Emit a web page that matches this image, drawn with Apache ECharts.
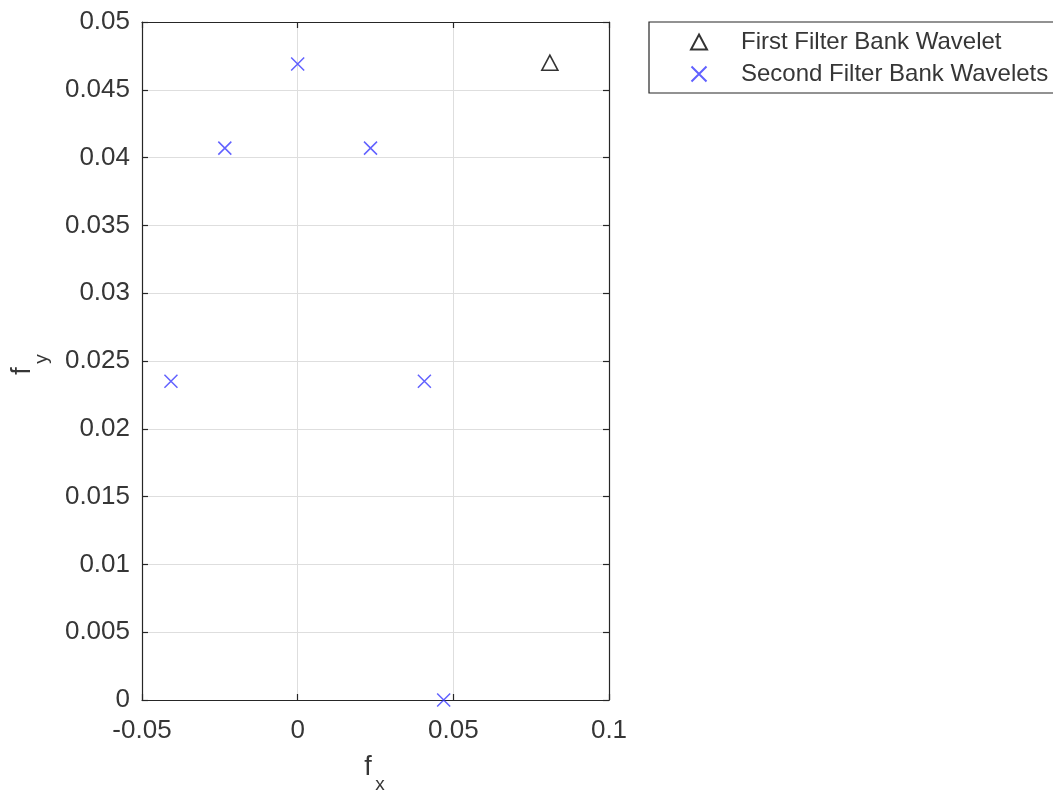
<!DOCTYPE html>
<html>
<head>
<meta charset="utf-8">
<script src="https://cdn.jsdelivr.net/npm/echarts@6/dist/echarts.min.js"></script>
<style>html,body{margin:0;padding:0;background:#fff;}#c{width:1053px;height:794px;}</style>
</head>
<body>
<div id="c"></div>
<script>
// Data
const firstBankX = [0.0810];
const firstBankY = [0.0470];
const secondBankX = [0.0000, -0.0234, 0.0234, -0.0407, 0.0407, 0.0469];
const secondBankY = [0.0469, 0.0407, 0.0407, 0.0235, 0.0235, 0.0000];
const seriesNames = ['First Filter Bank Wavelet', 'Second Filter Bank Wavelets'];
const xTicks = { min: -0.05, max: 0.1, interval: 0.05 };
const yTicks = { min: 0, max: 0.05, interval: 0.005 };

const zip = (xs, ys) => xs.map((x, i) => [x, ys[i]]);
const fmt = v => String(Math.round(v * 1000) / 1000);
const axisCol = '#262626';
const txtCol = '#363636';
const FONT = 'Liberation Sans, Arial, Helvetica, sans-serif';
const crossPath = 'path://M0,0L10,10M10,0L0,10';

const chart = echarts.init(document.getElementById('c'), null, { renderer: 'canvas' });
const baseAxis = {
  axisLine: { show: true, onZero: false, lineStyle: { color: axisCol, width: 1.2 } },
  axisTick: { show: true, inside: true, length: 6, lineStyle: { color: axisCol, width: 1.2 } },
  splitLine: { show: false },
  axisLabel: { show: false }
};
chart.setOption({
  animation: false,
  backgroundColor: '#fff',
  grid: { left: 142, top: 22, right: 1053 - 609, bottom: 794 - 700, containLabel: false },
  xAxis: [
    Object.assign({}, baseAxis, {
      type: 'value', position: 'bottom', min: xTicks.min, max: xTicks.max, interval: xTicks.interval,
      splitLine: { show: true, lineStyle: { color: '#dedede', width: 1 } },
      axisLabel: { show: true, color: txtCol, fontSize: 26, fontFamily: FONT, margin: 18, formatter: fmt }
    }),
    Object.assign({}, baseAxis, {
      type: 'value', position: 'top', min: xTicks.min, max: xTicks.max, interval: xTicks.interval
    })
  ],
  yAxis: [
    Object.assign({}, baseAxis, {
      type: 'value', position: 'left', min: yTicks.min, max: yTicks.max, interval: yTicks.interval,
      splitLine: { show: true, lineStyle: { color: '#dedede', width: 1 } },
      axisLabel: { show: true, color: txtCol, fontSize: 26, fontFamily: FONT, margin: 12, formatter: fmt,
                   padding: [4, 0, 0, 0] }
    }),
    Object.assign({}, baseAxis, {
      type: 'value', position: 'right', min: yTicks.min, max: yTicks.max, interval: yTicks.interval
    })
  ],
  legend: {
    orient: 'vertical',
    left: 649, top: 22,
    padding: [8, 0, 7, 40],
    itemWidth: 16, itemHeight: 15, itemGap: 8,
    textStyle: { color: txtCol, fontSize: 24, fontFamily: FONT, padding: [0, 0, 0, 29] },
    data: seriesNames
  },
  series: [
    {
      name: seriesNames[0], type: 'scatter', clip: false,
      symbol: 'triangle', symbolSize: [16, 15],
      itemStyle: { color: '#fff', borderColor: '#000', borderWidth: 1.6 },
      data: zip(firstBankX, firstBankY)
    },
    {
      name: seriesNames[1], type: 'scatter', clip: false,
      symbol: crossPath, symbolSize: 13,
      itemStyle: { color: 'none', borderColor: '#3a3aff', borderWidth: 1.5 },
      data: zip(secondBankX, secondBankY)
    }
  ],
  graphic: [
    { type: 'rect', z: 0, shape: { x: 649, y: 22, width: 440, height: 71 },
      style: { fill: '#fff', stroke: axisCol, lineWidth: 1.2 } },
    { type: 'text', x: 368, y: 768, style: { text: 'f', font: '27px ' + FONT, fill: txtCol, align: 'center', verticalAlign: 'middle' } },
    { type: 'text', x: 380, y: 785, style: { text: 'x', font: '19px ' + FONT, fill: txtCol, align: 'center', verticalAlign: 'middle' } },
    { type: 'text', x: 23, y: 371, rotation: Math.PI / 2, style: { text: 'f', font: '27px ' + FONT, fill: txtCol, align: 'center', verticalAlign: 'middle' } },
    { type: 'text', x: 42, y: 359, rotation: Math.PI / 2, style: { text: 'y', font: '19px ' + FONT, fill: txtCol, align: 'center', verticalAlign: 'middle' } }
  ]
});
</script>
</body>
</html>
